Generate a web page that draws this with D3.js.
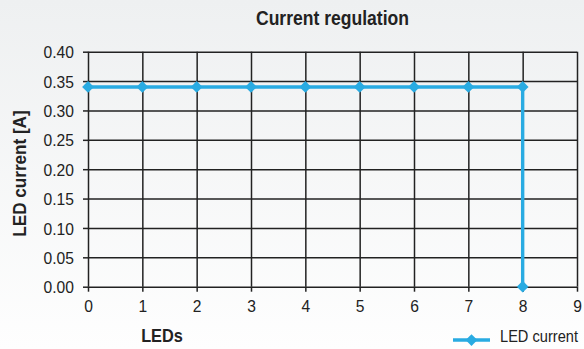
<!DOCTYPE html>
<html><head><meta charset="utf-8">
<script src="https://cdn.jsdelivr.net/npm/d3@7"></script>
<style>
html,body{margin:0;padding:0;}
svg{display:block;}
text{font-family:"Liberation Sans",Arial,sans-serif;fill:#222;}
</style></head>
<body>
<svg id="chart" width="584" height="349"></svg>
<script>
// Data
const ledsX = [0, 1, 2, 3, 4, 5, 6, 7, 8, 8];
const currentA = [0.34, 0.34, 0.34, 0.34, 0.34, 0.34, 0.34, 0.34, 0.34, 0.00];
const xTicks = [0, 1, 2, 3, 4, 5, 6, 7, 8, 9];
const yTicks = [0.00, 0.05, 0.10, 0.15, 0.20, 0.25, 0.30, 0.35, 0.40];
const seriesName = "LED current";
const titleText = "Current regulation";
const xLabel = "LEDs";
const yLabel = "LED current [A]";

const W = 584, H = 349;
const m = {left: 88, right: 7, top: 51.7, bottom: 62.3};
const svg = d3.select("#chart");

const defs = svg.append("defs");
const grad = defs.append("linearGradient").attr("id","bg").attr("x1",0).attr("y1",0).attr("x2",0).attr("y2",1);
grad.append("stop").attr("offset","0%").attr("stop-color","#eef0f1");
grad.append("stop").attr("offset","100%").attr("stop-color","#fefefe");
svg.append("rect").attr("width",W).attr("height",H).attr("fill","url(#bg)");

const x = d3.scaleLinear().domain([0, 9]).range([m.left, W - m.right]);
const y = d3.scaleLinear().domain([0, 0.40]).range([H - m.bottom, m.top]);

const gridColor = "#222";
const tickScale = 0.92, tickFont = 17;

// horizontal gridlines with left ticks
svg.append("g").attr("transform",`translate(${m.left},0)`)
  .call(d3.axisLeft(y).tickValues(yTicks).tickSize(5).tickPadding(9).tickFormat(d3.format(".2f")))
  .call(g => g.select(".domain").remove())
  .call(g => g.selectAll(".tick line").attr("stroke",gridColor).attr("stroke-width",1.5))
  .call(g => g.selectAll(".tick").append("line").attr("x1",0).attr("x2",W - m.right - m.left).attr("stroke",gridColor).attr("stroke-width",1.5))
  .call(g => g.selectAll("text").attr("font-size",tickFont).attr("fill","#222")
      .style("font-family",'"Liberation Sans",Arial,sans-serif')
      .attr("x", -14/tickScale).attr("dy","0.36em")
      .attr("transform",`scale(${tickScale},1)`));

// vertical gridlines with bottom ticks
svg.append("g").attr("transform",`translate(0,${H - m.bottom})`)
  .call(d3.axisBottom(x).tickValues(xTicks).tickSize(5).tickPadding(7).tickFormat(d3.format("d")))
  .call(g => g.select(".domain").remove())
  .call(g => g.selectAll(".tick line").attr("stroke",gridColor).attr("stroke-width",1.5))
  .call(g => g.selectAll(".tick").append("line").attr("y1",0).attr("y2",-(H - m.bottom - m.top)).attr("stroke",gridColor).attr("stroke-width",1.5))
  .call(g => g.selectAll("text").attr("font-size",tickFont).attr("fill","#222")
      .style("font-family",'"Liberation Sans",Arial,sans-serif')
      .attr("y", 13).attr("dy","0.71em")
      .attr("transform",`scale(${tickScale},1)`));

const blue = "#29abe2";
const pts = ledsX.map((d,i) => [d, currentA[i]]);
svg.append("path").datum(pts)
  .attr("fill","none").attr("stroke",blue).attr("stroke-width",3.4)
  .attr("d", d3.line().x(d => x(d[0])).y(d => y(d[1])));

const diamond = d3.symbol().type(d3.symbolDiamond2).size(88);
svg.append("g").selectAll("path").data(pts).join("path")
  .attr("d", diamond).attr("fill",blue)
  .attr("transform", d => `translate(${x(d[0])},${y(d[1])})`);

// Title
svg.append("text").attr("transform",`translate(${(m.left + W - m.right)/2},25) scale(0.9,1)`)
  .attr("text-anchor","middle").attr("font-weight","bold").attr("font-size",19.5).text(titleText);
// X label
svg.append("text").attr("transform","translate(162,341.5) scale(0.86,1)")
  .attr("text-anchor","middle").attr("font-weight","bold").attr("font-size",19).text(xLabel);
// Y label
svg.append("text").attr("transform","translate(26,173.5) rotate(-90) scale(0.9,1)")
  .attr("text-anchor","middle").attr("font-weight","bold").attr("font-size",19).text(yLabel);

// Legend
const lg = svg.append("g");
lg.append("line").attr("x1",453).attr("x2",490).attr("y1",340).attr("y2",340).attr("stroke",blue).attr("stroke-width",3.4);
lg.append("path").attr("d",diamond).attr("fill",blue).attr("transform","translate(471.5,340)");
lg.append("text").attr("transform","translate(500,341.5) scale(0.86,1)").attr("font-size",17).text(seriesName);
</script>
</body></html>
